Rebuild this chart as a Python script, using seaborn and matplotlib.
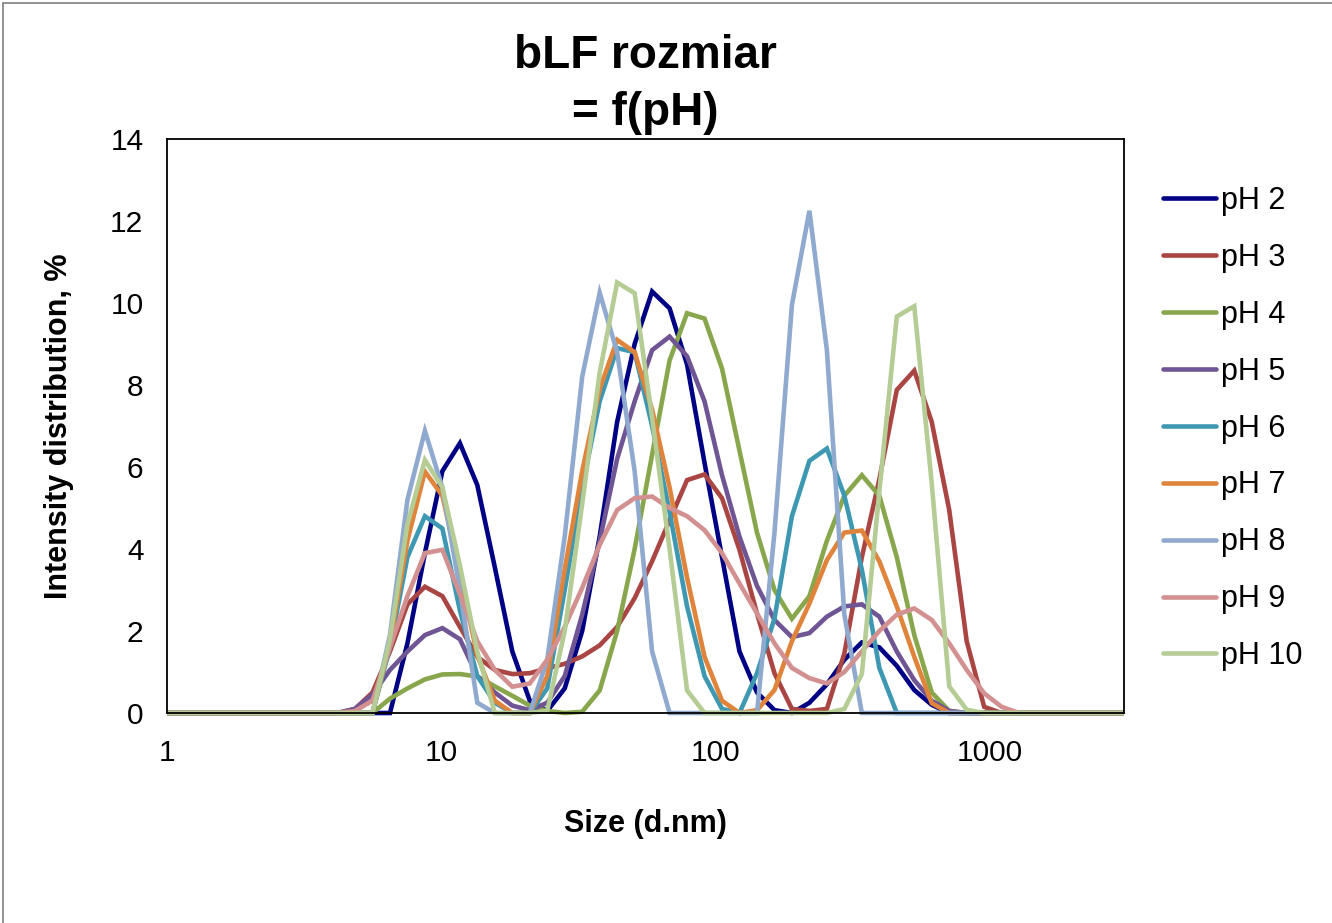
import matplotlib
matplotlib.use("Agg")
import matplotlib.pyplot as plt
from matplotlib.lines import Line2D
from matplotlib.ticker import FixedLocator, FuncFormatter, LogLocator, NullFormatter
from matplotlib.transforms import Bbox, TransformedBbox
import pandas as pd
import seaborn as sns

# Zetasizer size classes (d.nm) shown on the chart
size_nm = [0.9649, 1.117, 1.294, 1.499, 1.736, 2.01, 2.328, 2.696,
           3.122, 3.615, 4.187, 4.849, 5.615, 6.503, 7.531, 8.721,
           10.1, 11.7, 13.54, 15.69, 18.17, 21.04, 24.36, 28.21,
           32.67, 37.84, 43.82, 50.75, 58.77, 68.06, 78.82, 91.28,
           105.7, 122.4, 141.8, 164.2, 190.1, 220.2, 255.0, 295.3,
           342.0, 396.1, 458.7, 531.2, 615.1, 712.4, 825.0, 955.4,
           1106, 1281, 1484, 1718, 1990, 2305, 2669, 3091]

ph2 = [0, 0, 0, 0, 0, 0, 0, 0,
       0, 0, 0, 0, 0, 0, 1.7, 3.9,
       5.9, 6.58, 5.56, 3.55, 1.5, 0.3, 0.05, 0.6,
       2.0, 4.3, 7.1, 9.0, 10.28, 9.87, 8.5, 6.1,
       3.8, 1.5, 0.5, 0.07, 0, 0.25, 0.7, 1.3,
       1.72, 1.6, 1.15, 0.56, 0.2, 0, 0, 0,
       0, 0, 0, 0, 0, 0, 0, 0]
ph3 = [0, 0, 0, 0, 0, 0, 0, 0,
       0, 0, 0, 0.1, 0.5, 1.5, 2.65, 3.08,
       2.85, 2.1, 1.37, 1.05, 0.95, 0.97, 1.09, 1.2,
       1.38, 1.65, 2.1, 2.8, 3.7, 4.7, 5.68, 5.82,
       5.24, 3.98, 2.43, 0.97, 0.1, 0.05, 0.1, 1.45,
       3.8, 5.7, 7.88, 8.35, 7.1, 4.95, 1.75, 0.15,
       0, 0, 0, 0, 0, 0, 0, 0]
ph4 = [0, 0, 0, 0, 0, 0, 0, 0,
       0, 0, 0, 0, 0, 0.35, 0.6, 0.82,
       0.94, 0.95, 0.89, 0.65, 0.42, 0.18, 0.05, 0,
       0.03, 0.55, 2.0, 4.0, 6.3, 8.6, 9.75, 9.62,
       8.4, 6.4, 4.4, 3.0, 2.3, 2.85, 4.2, 5.3,
       5.8, 5.3, 3.8, 1.9, 0.5, 0.05, 0, 0,
       0, 0, 0, 0, 0, 0, 0, 0]
ph5 = [0, 0, 0, 0, 0, 0, 0, 0,
       0, 0, 0, 0.1, 0.45, 1.05, 1.5, 1.9,
       2.07, 1.8, 0.9, 0.5, 0.18, 0.07, 0.25, 0.9,
       2.4, 4.2, 6.2, 7.6, 8.85, 9.18, 8.7, 7.6,
       5.8, 4.3, 3.1, 2.27, 1.85, 1.95, 2.35, 2.6,
       2.65, 2.35, 1.5, 0.8, 0.3, 0.05, 0, 0,
       0, 0, 0, 0, 0, 0, 0, 0]
ph6 = [0, 0, 0, 0, 0, 0, 0, 0,
       0, 0, 0, 0, 0, 1.6, 3.8, 4.8,
       4.5, 2.5, 0.9, 0.25, 0, 0, 0.6, 3.0,
       5.5, 7.6, 8.9, 8.8, 7.0, 4.9, 2.6, 0.9,
       0.1, 0, 0.97, 2.3, 4.8, 6.15, 6.45, 5.3,
       3.5, 1.1, 0, 0, 0, 0, 0, 0,
       0, 0, 0, 0, 0, 0, 0, 0]
ph7 = [0, 0, 0, 0, 0, 0, 0, 0,
       0, 0, 0, 0, 0, 1.7, 4.2, 5.89,
       5.3, 3.4, 1.4, 0.3, 0, 0, 0.9, 3.5,
       5.9, 7.9, 9.1, 8.8, 7.4, 5.5, 3.3, 1.37,
       0.3, 0, 0.07, 0.56, 1.75, 2.67, 3.73, 4.4,
       4.45, 3.7, 2.6, 1.37, 0.24, 0, 0, 0,
       0, 0, 0, 0, 0, 0, 0, 0]
ph8 = [0, 0, 0, 0, 0, 0, 0, 0,
       0, 0, 0, 0, 0, 1.9, 5.2, 6.88,
       5.5, 3.0, 0.25, 0, 0, 0, 1.3, 4.3,
       8.2, 10.25, 8.8, 5.9, 1.5, 0, 0, 0,
       0, 0, 0, 4.4, 9.95, 12.25, 8.85, 2.4,
       0, 0, 0, 0, 0, 0, 0, 0,
       0, 0, 0, 0, 0, 0, 0, 0]
ph9 = [0, 0, 0, 0, 0, 0, 0, 0,
       0, 0, 0, 0.05, 0.3, 1.6, 2.85, 3.9,
       3.98, 2.9, 1.75, 1.05, 0.64, 0.72, 1.3, 2.1,
       3.05, 4.1, 4.95, 5.24, 5.28, 5.0, 4.8, 4.46,
       3.9, 3.16, 2.43, 1.7, 1.1, 0.85, 0.72, 1.0,
       1.5, 2.0, 2.4, 2.55, 2.27, 1.7, 1.05, 0.48,
       0.15, 0, 0, 0, 0, 0, 0, 0]
ph10 = [0, 0, 0, 0, 0, 0, 0, 0,
        0, 0, 0, 0, 0, 1.8, 4.6, 6.17,
        5.5, 3.6, 1.5, 0, 0, 0, 0.05, 2.0,
        5.1, 8.3, 10.5, 10.24, 7.2, 4.0, 0.55, 0,
        0, 0, 0, 0, 0, 0, 0, 0.1,
        0.95, 5.4, 9.67, 9.92, 5.6, 0.65, 0.08, 0,
        0, 0, 0, 0, 0, 0, 0, 0]

labels = ["pH 2", "pH 3", "pH 4", "pH 5", "pH 6",
          "pH 7", "pH 8", "pH 9", "pH 10"]
colors = ["#000085", "#A94542", "#88A64B", "#6F5593", "#3F98B2",
          "#E0843B", "#8FA9CF", "#D29190", "#B5CC94"]


def build_frame():
    series = [ph2, ph3, ph4, ph5, ph6, ph7, ph8, ph9, ph10]
    parts = []
    for label, values in zip(labels, series):
        parts.append(pd.DataFrame({"Size": size_nm,
                                   "Intensity": values,
                                   "Sample": label}))
    return pd.concat(parts, ignore_index=True)


def plot_all(data):
    fig = plt.figure(figsize=(13.32, 9.23), dpi=100)
    ax = fig.add_axes([167 / 1332, 1 - 713 / 923,
                       (1124 - 167) / 1332, (713 - 139) / 923])
    sns.lineplot(x="Size", y="Intensity", data=data, hue="Sample",
                 hue_order=labels, palette=colors, linewidth=3.3,
                 estimator=None, sort=False, ax=ax)
    ax.set_xscale("log")
    ax.set_xlim(1, 3091)
    ax.set_ylim(0, 14)

    # let the zero lines sit on top of the axis instead of being cut in half
    clip = TransformedBbox(Bbox([[0, -0.03], [1, 1.03]]), ax.transAxes)
    for line in ax.lines:
        line.set_clip_box(clip)
        line.set_solid_joinstyle("miter")

    ax.xaxis.set_major_locator(FixedLocator([1, 10, 100, 1000]))
    ax.xaxis.set_major_formatter(FuncFormatter(lambda v, _: f"{v:g}"))
    ax.xaxis.set_minor_locator(LogLocator(base=10, subs=range(2, 10), numticks=20))
    ax.xaxis.set_minor_formatter(NullFormatter())
    ax.set_yticks(range(0, 15, 2))

    ax.tick_params(axis="both", which="major", direction="out", length=5,
                   width=1, color="black", labelcolor="black",
                   labelsize=21.5, pad=12)
    ax.tick_params(axis="x", which="minor", direction="out", length=3.5,
                   width=1, color="black")
    ax.tick_params(axis="x", which="major", pad=14)
    for side in ax.spines.values():
        side.set_visible(True)
        side.set_color("black")
        side.set_linewidth(1.3)
    ax.grid(False)

    ax.set_xlabel("Size (d.nm)", fontsize=22, fontweight="bold",
                  labelpad=30, color="black")
    ax.set_ylabel("Intensity distribution, %", fontsize=22,
                  fontweight="bold", labelpad=26, color="black")
    ax.set_title("bLF rozmiar\n= f(pH)", fontsize=33, fontweight="bold",
                 pad=10, linespacing=1.4, color="black")

    leg = ax.legend(loc="upper left", bbox_to_anchor=(1163 / 1332, 1 - 186 / 923),
                    bbox_transform=fig.transFigure, frameon=False, fontsize=22,
                    handlelength=1.75, handletextpad=0.15, labelspacing=0.88,
                    borderpad=0, borderaxespad=0)
    for text in leg.get_texts():
        text.set_color("black")

    # chart area border (left and top edges are visible in the original)
    border = dict(color="#7f7f7f", linewidth=1.2, transform=fig.transFigure)
    fig.add_artist(Line2D([3 / 1332, 1.0], [1 - 3 / 923, 1 - 3 / 923], **border))
    fig.add_artist(Line2D([3 / 1332, 3 / 1332], [0.0, 1 - 3 / 923], **border))

    fig.savefig("out.png", dpi=100, facecolor="white")
    plt.close(fig)


if __name__ == "__main__":
    sns.set_style("white")
    plt.rcParams["font.family"] = ["Liberation Sans", "DejaVu Sans"]
    plt.rcParams["text.color"] = "black"
    plot_all(build_frame())
